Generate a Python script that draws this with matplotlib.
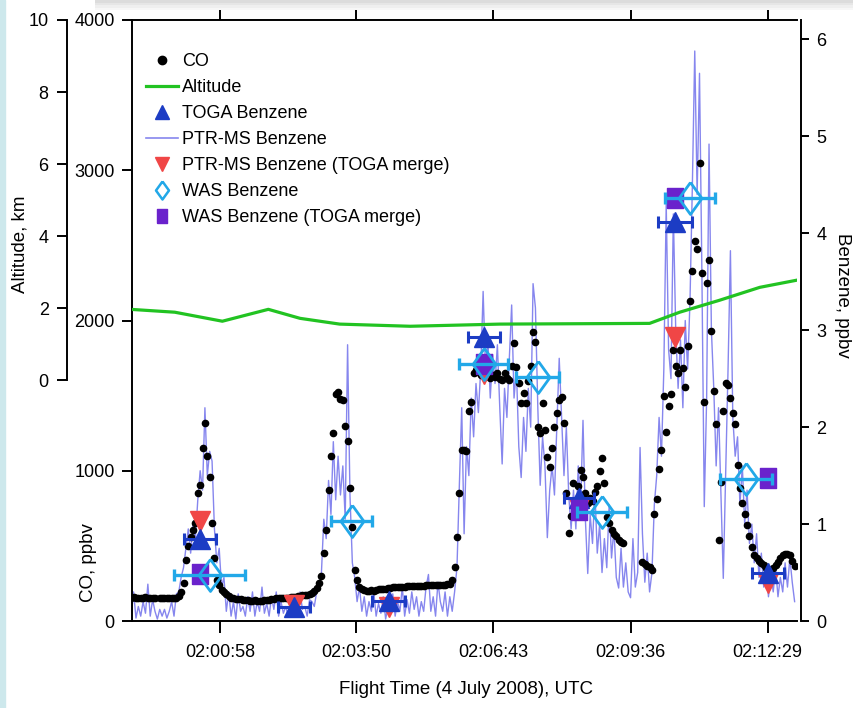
import numpy as np
import matplotlib
matplotlib.use("Agg")
import matplotlib.pyplot as plt
from matplotlib.lines import Line2D
from matplotlib.ticker import FuncFormatter, FixedLocator
from matplotlib.patches import Rectangle

plt.rcParams['font.family'] = ['Liberation Sans', 'DejaVu Sans']

nan = np.nan

# ---------------- data (time in seconds after 02:00:00 UTC) ----------------
# 3-s sample clock for the continuous instruments
sample_time_s = np.arange(-54, 784, 3)

co_ppbv = [
    155, 158, 155, 152, 156, 155, 158, 155, 153, 156, 150, nan, 150, 152, 155, 153, 150, 155, 152, 156,
    165, 190, 250, 405, 500, 560, 605, 650, 850, 905, 1150, 1320, 1100, 960, 650, 420, 270, 240, 205, 190,
    180, 165, 155, 150, 148, 145, 145, 142, 140, 138, 135, 135, 138, 132, 130, 135, 138, 140, 142, 145,
    148, 150, 152, 150, 155, 152, 155, 158, 160, 160, 165, 168, 170, 172, 175, 180, 185, 200, 220, 250,
    300, 450, 605, 870, 1100, 1250, 1510, 1525, 1480, 1470, 1300, 1200, 885, 625, 340, 270, 225, 210, 205, 200,
    200, 205, 200, 205, 210, 210, 215, 215, 220, 220, 225, 225, 225, 225, 225, 228, 230, 230, 232, 235,
    235, 230, 232, 235, 238, 240, 238, 240, 242, 240, 238, 240, 242, 245, 248, 270, 360, 560, 850, 1140,
    1140, 1130, 1400, 1460, 1650, 1670, 1660, 1640, 1650, 1630, 1650, 1620, 1640, 1625, 1650, 1610, 1605, 1650, 1620, 1605,
    1700, 1850, 1690, 1585, 1450, 1520, 1450, 1600, 1700, 1925, 1855, 1290, 1250, 1450, 1270, 1090, 1025, 1150, 1290, 1385,
    1470, 1490, 1320, 850, 585, 700, 920, 805, 900, 1005, 960, 850, 785, 820, 800, 860, 900, 1000, 1085, 920,
    690, 650, 605, 580, 565, 540, 525, 520, nan, nan, nan, nan, nan, nan, nan, 390, 380, 365, 360, 340,
    710, 810, 1010, 1140, 1500, 1260, 1430, 1510, 1805, 1700, 1650, 1805, 1685, 1560, 1830, 2130, 2330, 2530, 2475, 3050,
    2315, 1460, 2250, 2400, 1930, 1530, 1310, 540, 925, 1400, 1585, 1570, 1485, 1385, 1310, 1040, 885, 785, 710, 640,
    565, 490, 440, 420, 400, 385, 370, 355, 345, 340, 355, 370, 390, 420, 440, 445, 445, 440, 400, 365,
]

ptrms_benzene = [
    0.05, 0.30, 0.03, 0.15, 0.05, 0.20, 0.08, 0.38, 0.05, 0.22, 0.10, 0.02, 0.12, 0.05, 0.12, 0.03, 0.10, 0.20, 0.05, 0.28,
    0.30, 0.45, 0.55, 0.75, 0.95, 0.70, 1.00, 0.85, 1.25, 1.55, 1.35, 2.20, 1.50, 1.75, 1.65, 0.95, 0.60, 0.75, 0.35, 0.45,
    0.10, 0.30, 0.05, 0.20, 0.02, 0.28, 0.10, 0.15, 0.05, 0.25, 0.10, 0.30, 0.05, 0.20, 0.10, 0.35, 0.08, 0.18, 0.05, 0.25,
    0.12, 0.30, 0.05, 0.20, 0.08, 0.15, 0.05, 0.20, 0.10, 0.25, 0.05, 0.30, 0.12, 0.15, 0.05, 0.22, 0.20, 0.15, 0.30, 0.35,
    0.50, 1.05, 0.85, 1.45, 1.10, 1.85, 1.25, 1.70, 1.30, 1.60, 1.05, 2.85, 1.30, 0.60, 0.45, 0.20, 0.35, 0.10, 0.25, 0.05,
    0.20, 0.10, 0.30, 0.05, 0.18, 0.08, 0.25, 0.02, 0.15, 0.10, 0.28, 0.05, 0.20, 0.10, 0.35, 0.05, 0.22, 0.08, 0.30, 0.12,
    0.25, 0.05, 0.20, 0.10, 0.35, 0.48, 0.10, 0.25, 0.05, 0.40, 0.20, 0.10, 0.30, 0.05, 0.25, 0.10, 0.30, 0.55, 1.40, 2.20,
    0.90, 1.80, 1.50, 2.30, 1.90, 2.45, 2.15, 2.60, 3.40, 2.60, 2.90, 2.30, 2.75, 2.45, 2.85, 2.20, 1.62, 2.40, 2.10, 2.70,
    3.26, 2.30, 2.60, 1.80, 1.48, 2.10, 1.75, 2.40, 2.00, 3.48, 3.23, 2.20, 1.40, 1.90, 1.60, 0.86, 1.35, 1.60, 1.30, 2.00,
    2.71, 2.10, 1.50, 2.00, 1.30, 0.95, 1.35, 0.95, 1.60, 1.20, 2.07, 1.05, 0.49, 1.10, 0.80, 1.35, 0.70, 1.00, 0.50, 0.85,
    0.55, 1.20, 0.65, 0.95, 0.45, 0.34, 0.75, 0.35, 0.60, 0.30, 0.24, 0.85, 0.35, 0.50, 1.79, 0.90, 0.40, 0.70, 0.30, 0.50,
    1.20, 1.50, 2.10, 1.70, 2.60, 4.30, 2.80, 2.50, 4.20, 3.00, 2.40, 2.90, 2.20, 3.10, 2.60, 3.30, 4.50, 5.88, 4.40, 5.65,
    3.60, 1.18, 2.30, 4.92, 3.00, 2.40, 1.60, 2.20, 1.30, 0.44, 1.50, 2.60, 3.82, 2.10, 1.70, 1.90, 1.20, 1.60, 1.00, 1.35,
    0.80, 1.00, 0.60, 0.90, 0.45, 0.70, 0.35, 0.55, 0.25, 0.50, 0.30, 0.55, 0.25, 0.45, 0.30, 0.60, 0.35, 0.65, 0.40, 0.20,
]

altitude_time_s = [-55, 1, 61, 119, 159, 209, 298, 411, 600, 638, 688, 739, 786]
altitude_km = [1.97, 1.89, 1.64, 1.97, 1.72, 1.56, 1.50, 1.56, 1.58, 1.89, 2.22, 2.58, 2.78]

toga_time_s = [33, 151, 271, 391, 511, 632, 749]
toga_halfwidth_s = [20, 20, 21, 20, 19, 21, 20]
toga_benzene = [0.85, 0.14, 0.21, 2.93, 1.27, 4.12, 0.50]
ptrms_merge_benzene = [1.03, 0.16, 0.14, 2.55, 1.17, 2.93, 0.39]

was_time_s = [45, 224, 391, 459, 540, 651, 722]
was_halfwidth_s = [45, 26, 31, 27, 31, 32, 33]
was_benzene = [0.47, 1.03, 2.65, 2.52, 1.12, 4.36, 1.47]

was_merge_time_s = [33, 391, 511, 632, 750]
was_merge_benzene = [0.48, 2.65, 1.15, 4.36, 1.48]

time_ticks_s = [58, 230, 403, 576, 749]

# ---------------- styles ----------------
C_TOGA = '#1c3cc4'
C_RED = '#f04646'
C_WAS = '#22a8e8'
C_PURPLE = '#6a22cc'
C_GREEN = '#22c322'
C_PTR = '#8686ee'
FS = 13
FS_LAB = 13.5

diamond = [(0, 1), (0.72, 0), (0, -1), (-0.72, 0), (0, 1)]
tallsq = [(-0.8, -1), (0.8, -1), (0.8, 1), (-0.8, 1), (-0.8, -1)]

fig = plt.figure(figsize=(8.54, 7.08), dpi=100)
fig.patches.append(Rectangle((0, 0), 5 / 854, 1, transform=fig.transFigure,
                             color='#cde8ec', zorder=0))
for i, g in enumerate(['#dcdcdc', '#e6e6e6', '#efefef', '#f7f7f7']):
    fig.patches.append(Rectangle((95 / 854, 1 - (i + 1) * 2.5 / 708), 1, 2.5 / 708,
                                 transform=fig.transFigure, color=g, zorder=0, lw=0))

rect = [132 / 854, 87 / 708, 665 / 854, 601 / 708]
ax_b = fig.add_axes(rect)
ax_co = ax_b.twinx()
ax_alt = ax_b.twinx()
ax_m = ax_b.twinx()

# PTR-MS line (bottom layer)
ax_b.plot(sample_time_s, ptrms_benzene, color=C_PTR, lw=1.0)
# CO dots
ax_co.plot(sample_time_s, co_ppbv, ls='none', marker='o', ms=4.5, color='black', mec='black')
# altitude
ax_alt.plot(altitude_time_s, altitude_km, color=C_GREEN, lw=2.3)

# discrete benzene samples (top layer)
ax_m.plot(toga_time_s, ptrms_merge_benzene, ls='none', marker='v', ms=15, color=C_RED,
          mec=C_RED, zorder=3)
ax_m.errorbar(toga_time_s, toga_benzene, xerr=toga_halfwidth_s, fmt='^', ms=14, color=C_TOGA,
              mec=C_TOGA, elinewidth=2.2, capsize=4.5, capthick=2.2, zorder=4)
ax_m.plot(was_merge_time_s, was_merge_benzene, ls='none', marker=tallsq, ms=14.5,
          color=C_PURPLE, mec=C_PURPLE, zorder=5)
ax_m.errorbar(was_time_s, was_benzene, xerr=was_halfwidth_s, fmt='none', ecolor=C_WAS,
              elinewidth=2.4, capsize=4.5, capthick=2.4, zorder=6)
ax_m.plot(was_time_s, was_benzene, ls='none', marker=diamond, ms=23, mfc='none',
          mec=C_WAS, mew=2.0, zorder=7)

# ---------------- axes ----------------
for a in (ax_b, ax_co, ax_alt, ax_m):
    a.set_xlim(-53, 786)
    for s in a.spines.values():
        s.set_visible(False)
        s.set_linewidth(1.4)

ax_b.set_ylim(0, 6.2)
ax_m.set_ylim(0, 6.2)
ax_co.set_ylim(0, 4000)
ax_alt.set_ylim(-6.68, 10)

ax_b.spines['top'].set_visible(True)
ax_b.spines['bottom'].set_visible(True)
ax_b.spines['right'].set_visible(True)
ax_b.spines['right'].set_position(('outward', 3))
ax_co.spines['left'].set_visible(True)
ax_alt.spines['left'].set_visible(True)
ax_alt.spines['left'].set_position(('outward', 47))
ax_alt.spines['left'].set_bounds(0, 10)

ax_b.xaxis.set_major_locator(FixedLocator(time_ticks_s))


def hms(t, pos):
    s = int(round(7200 + t))
    return f"{s // 3600:02d}:{(s % 3600) // 60:02d}:{s % 60:02d}"


ax_b.xaxis.set_major_formatter(FuncFormatter(hms))
ax_b.tick_params(axis='x', which='major', direction='out', length=8.6, width=1.4,
                 top=True, bottom=True, labeltop=False, labelbottom=True, pad=8, labelsize=FS)

ax_b.yaxis.tick_right()
ax_b.set_yticks([0, 1, 2, 3, 4, 5, 6])
ax_b.tick_params(axis='y', direction='out', length=6, width=1.4, right=True, left=False,
                 labelright=True, labelleft=False, pad=5, labelsize=FS)

ax_co.yaxis.tick_left()
ax_co.set_yticks([0, 1000, 2000, 3000, 4000])
ax_co.tick_params(axis='y', direction='out', length=7.5, width=1.4, left=True, right=False,
                  labelleft=True, labelright=False, pad=5, labelsize=FS)

ax_alt.yaxis.tick_left()
ax_alt.set_yticks([0, 2, 4, 6, 8, 10])
ax_alt.tick_params(axis='y', direction='out', length=7, width=1.4, left=True, right=False,
                   labelleft=True, labelright=False, pad=6, labelsize=FS)

ax_m.tick_params(axis='y', left=False, right=False, labelleft=False, labelright=False)

# axis labels
ax_b.set_xlabel('Flight Time (4 July 2008), UTC', fontsize=FS_LAB, va='center', ha='center')
ax_b.xaxis.set_label_coords(466 / 854, 1 - 690 / 708, transform=fig.transFigure)
ax_b.set_ylabel('Benzene, ppbv', fontsize=FS_LAB, rotation=270, va='center', ha='center')
ax_b.yaxis.set_label_coords(843 / 854, 1 - 295 / 708, transform=fig.transFigure)
ax_co.set_ylabel('CO, ppbv', fontsize=FS_LAB, rotation=90, va='center', ha='center')
ax_co.yaxis.set_label_coords(89 / 854, 1 - 563 / 708, transform=fig.transFigure)
ax_alt.set_ylabel('Altitude, km', fontsize=FS_LAB, rotation=90, va='center', ha='center')
ax_alt.yaxis.set_label_coords(20 / 854, 1 - 244 / 708, transform=fig.transFigure)

# legend
handles = [
    Line2D([], [], ls='none', marker='o', ms=6, color='black'),
    Line2D([], [], color=C_GREEN, lw=2.3),
    Line2D([], [], ls='none', marker='^', ms=9.5, color=C_TOGA),
    Line2D([], [], color=C_PTR, lw=1.2),
    Line2D([], [], ls='none', marker='v', ms=10.5, color=C_RED),
    Line2D([], [], ls='none', marker=diamond, ms=13, mfc='none', mec=C_WAS, mew=1.8),
    Line2D([], [], ls='none', marker=tallsq, ms=9.5, color=C_PURPLE),
]
labels = ['CO', 'Altitude', 'TOGA Benzene', 'PTR-MS Benzene', 'PTR-MS Benzene (TOGA merge)',
          'WAS Benzene', 'WAS Benzene (TOGA merge)']
ax_m.legend(handles, labels, loc='upper left', bbox_to_anchor=(14 / 665, (621 - 53) / 601),
            frameon=False, borderpad=0, borderaxespad=0, handlelength=1.75, handletextpad=0.25,
            labelspacing=0.5, fontsize=FS)

fig.savefig('out.png', dpi=100)
